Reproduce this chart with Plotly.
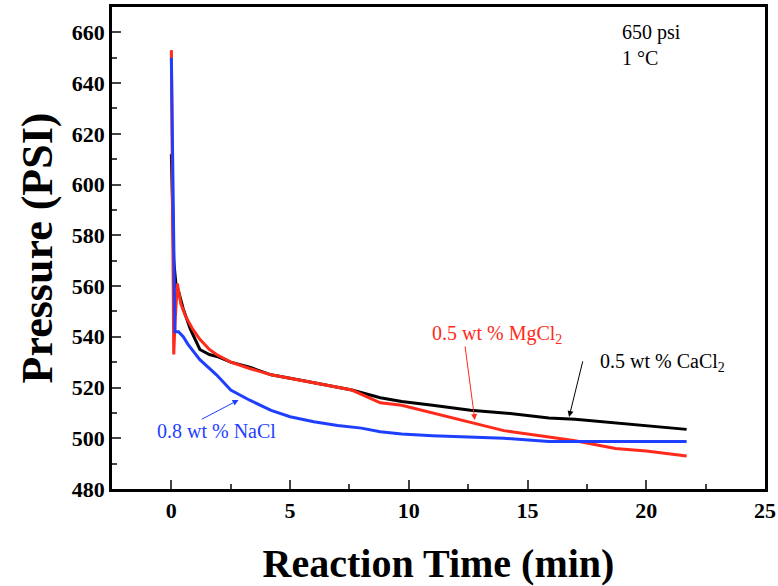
import plotly.graph_objects as go

# time (min) and pressure (psi)
t_cacl2 = [0.0, 0.03, 0.06, 0.1, 0.2, 0.3, 0.5, 0.8, 1.2, 1.6, 2.0, 2.5, 3.3, 4.2, 5.4, 6.5, 7.6, 8.8, 9.7, 11.0, 12.6, 14.0, 15.9, 17.0, 18.7, 20.0, 21.7]
p_cacl2 = [612, 600, 590, 570, 560, 558, 551, 543, 535, 533, 532, 530, 528, 525, 523, 521, 519, 516, 514.5, 513, 511, 510, 508, 507.5, 506, 505, 503.5]

t_mgcl2 = [0.0, 0.03, 0.06, 0.1, 0.15, 0.25, 0.4, 0.6, 0.9, 1.2, 1.6, 1.9, 2.5, 3.3, 4.2, 5.4, 6.5, 7.6, 8.8, 9.7, 11.0, 12.6, 14.0, 15.9, 17.0, 18.7, 20.0, 21.7]
p_mgcl2 = [653, 620, 580, 533, 545, 561, 553, 548, 543, 539, 535, 533, 530, 527.5, 525, 523, 521, 519, 514, 513, 510, 506.5, 503, 500.5, 499, 496, 495, 493]

t_nacl = [0.0, 0.05, 0.1, 0.15, 0.3, 0.5, 0.7, 1.2, 1.9, 2.5, 3.3, 4.2, 5.0, 6.0, 7.0, 8.0, 8.8, 9.7, 11.0, 12.6, 14.0, 15.9, 18.7, 21.7]
p_nacl = [650, 620, 590, 542, 542, 540, 537, 531, 525, 519, 515, 511, 508.5, 506.5, 505, 504, 502.6, 501.7, 501, 500.6, 500, 498.7, 498.7, 498.7]

x_ticks = [0, 5, 10, 15, 20, 25]
y_ticks = [480, 500, 520, 540, 560, 580, 600, 620, 640, 660]

serif = "Liberation Serif"

fig = go.Figure()
fig.add_trace(go.Scatter(x=t_cacl2, y=p_cacl2, mode="lines", line=dict(color="black", width=3)))
fig.add_trace(go.Scatter(x=t_mgcl2, y=p_mgcl2, mode="lines", line=dict(color="#ff2a1a", width=3)))
fig.add_trace(go.Scatter(x=t_nacl, y=p_nacl, mode="lines", line=dict(color="#1f3fff", width=3)))

notes = [
    dict(x=18.9, y=660, text="650 psi", color="black"),
    dict(x=18.9, y=650, text="1 °C", color="black"),
    dict(x=10.9, y=541, text="0.5 wt % MgCl<sub>2</sub>", color="#ff2a1a"),
    dict(x=17.95, y=529.7, text="0.5 wt % CaCl<sub>2</sub>", color="black"),
    dict(x=-0.7, y=502.9, text="0.8 wt % NaCl", color="#1f3fff"),
]
for n in notes:
    fig.add_annotation(x=n["x"], y=n["y"], text=n["text"], showarrow=False, xanchor="left",
                       font=dict(family=serif, size=20, color=n["color"]))

arrows = [
    (12.36, 536.8, 12.78, 507.2, "#ff2a1a"),
    (17.34, 530.9, 16.75, 508.4, "black"),
    (1.22, 507.2, 2.83, 515.1, "#1f3fff"),
]
for ax, ay, x, y, c in arrows:
    fig.add_annotation(x=x, y=y, ax=ax, ay=ay, axref="x", ayref="y", text="", showarrow=True,
                       arrowhead=2, arrowsize=1.2, arrowwidth=1, arrowcolor=c)

tick_font = dict(family=serif, size=22, color="black", weight="bold")
fig.update_xaxes(range=[-2.5, 25], tickvals=x_ticks, ticks="inside", ticklen=9, tickwidth=2,
                 minor=dict(dtick=2.5, ticks="inside", ticklen=5, tickwidth=2, tick0=0),
                 showline=True, linewidth=2.5, linecolor="black", mirror=True, showgrid=False,
                 zeroline=False, tickfont=tick_font, automargin=False,
                 title=dict(text="Reaction Time (min)", standoff=28,
                            font=dict(family=serif, size=40, color="black", weight="bold")))
fig.update_yaxes(range=[480, 670], tickvals=y_ticks, ticks="inside", ticklen=9, tickwidth=2,
                 minor=dict(dtick=10, ticks="inside", ticklen=5, tickwidth=2, tick0=480),
                 showline=True, linewidth=2.5, linecolor="black", mirror=True, showgrid=False,
                 zeroline=False, tickfont=tick_font, automargin=False,
                 title=dict(text="Pressure (PSI)", standoff=6,
                            font=dict(family=serif, size=44, color="black", weight="bold")))
fig.update_layout(width=778, height=586, showlegend=False, plot_bgcolor="white", paper_bgcolor="white",
                  margin=dict(l=112, r=13, t=7, b=97))

# drop the default 8px body margin so the figure fills the window
fig.write_html("out.html", config={"displayModeBar": False},
               post_script="document.body.style.margin='0';document.body.style.overflow='hidden';")
